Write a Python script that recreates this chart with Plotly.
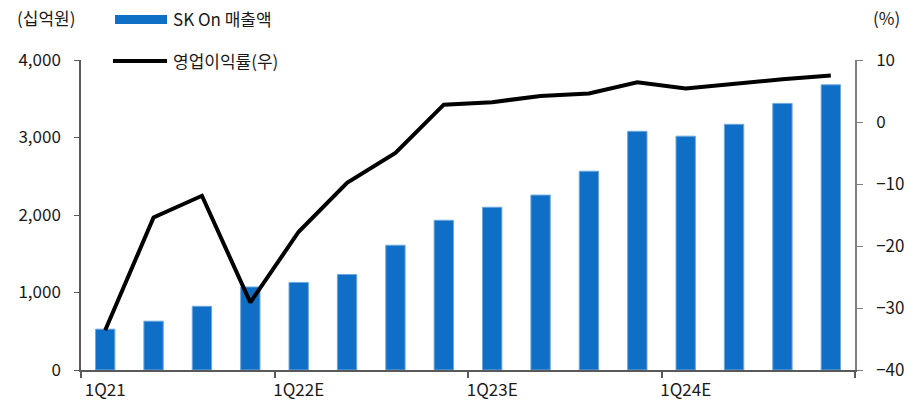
import plotly.graph_objects as go

quarters = ["1Q21", "2Q21", "3Q21", "4Q21",
            "1Q22E", "2Q22E", "3Q22E", "4Q22E",
            "1Q23E", "2Q23E", "3Q23E", "4Q23E",
            "1Q24E", "2Q24E", "3Q24E", "4Q24E"]
revenue = [527, 630, 822, 1071, 1130, 1232, 1610, 1932,
           2100, 2257, 2565, 3080, 3017, 3170, 3440, 3680]
op_margin = [-33.6, -15.4, -11.9, -29.1, -17.7, -9.8, -5.0, 2.8,
             3.2, 4.2, 4.6, 6.4, 5.4, 6.2, 6.9, 7.5]
tick_labels = ["1Q21", "1Q22E", "1Q23E", "1Q24E"]
bar_name = "SK On 매출액"
line_name = "영업이익률(우)"

FONT = "Noto Sans CJK KR"
FS = 17
TXT = "#1a1a1a"
BLUE = "#0F6FC6"
idx = list(range(len(quarters)))

fig = go.Figure()
fig.add_trace(go.Bar(x=idx, y=revenue, name=bar_name, width=0.4,
                     marker=dict(color=BLUE, line=dict(color="#6FA8DC", width=1)),
                     customdata=quarters, hovertemplate="%{customdata}: %{y}<extra></extra>"))
fig.add_trace(go.Scatter(x=idx, y=op_margin, name=line_name, yaxis="y2", mode="lines",
                         line=dict(color="black", width=4),
                         customdata=quarters, hovertemplate="%{customdata}: %{y}<extra></extra>"))

L, R, T, B = 81, 58, 60, 33
W, H = 913, 403
pw, ph = W - L - R, H - T - B
def px(x):
    return (x - L) / pw
def py(y):
    return (H - B - y) / ph

shapes = [
    dict(type="rect", xref="paper", yref="paper", x0=px(115), x1=px(167), y0=py(24), y1=py(15),
         fillcolor=BLUE, line=dict(width=0)),
    dict(type="line", xref="paper", yref="paper", x0=px(113), x1=px(167), y0=py(61), y1=py(61),
         line=dict(color="black", width=4)),
]
annotations = [
    dict(text=bar_name, xref="paper", yref="paper", x=px(171), y=py(19), xanchor="left", yanchor="middle",
         showarrow=False, font=dict(size=FS, color=TXT, family=FONT)),
    dict(text=line_name, xref="paper", yref="paper", x=px(171), y=py(61), xanchor="left", yanchor="middle",
         showarrow=False, font=dict(size=FS, color=TXT, family=FONT)),
    dict(text="(십억원)", xref="paper", yref="paper", x=px(46), y=py(18), xanchor="center", yanchor="middle",
         showarrow=False, font=dict(size=FS, color=TXT, family=FONT)),
    dict(text="(%)", xref="paper", yref="paper", x=px(887), y=py(18), xanchor="center", yanchor="middle",
         showarrow=False, font=dict(size=FS, color=TXT, family=FONT)),
]

fig.update_layout(
    width=W, height=H, margin=dict(l=L, r=R, t=T, b=B),
    plot_bgcolor="white", paper_bgcolor="white",
    showlegend=False,
    font=dict(family=FONT, size=FS, color=TXT),
    shapes=shapes, annotations=annotations,
    xaxis=dict(range=[-0.5, 15.5], tickvals=[0, 4, 8, 12], ticktext=tick_labels,
               ticks="", ticklen=0, showline=True, linecolor="#595959", linewidth=1.5,
               showgrid=False, zeroline=False, ticklabelstandoff=4, automargin=False,
               minor=dict(tickvals=[-0.5, 3.5, 7.5, 11.5, 15.5], ticks="outside", ticklen=6,
                          tickcolor="#595959", tickwidth=1.5, showgrid=False)),
    yaxis=dict(range=[0, 4000], dtick=1000, tickformat=",d", ticks="outside", ticklen=5,
               tickcolor="#595959", showline=True, linecolor="#595959", linewidth=1.5,
               showgrid=False, zeroline=False, ticklabelstandoff=10, automargin=False),
    yaxis2=dict(range=[-40, 10], dtick=10, overlaying="y", side="right", ticks="outside", ticklen=6,
                tickcolor="#7f7f7f", showline=True, linecolor="#7f7f7f", linewidth=1.5,
                showgrid=False, zeroline=False, ticklabelstandoff=10, automargin=False),
)

fig.write_html("out.html")
